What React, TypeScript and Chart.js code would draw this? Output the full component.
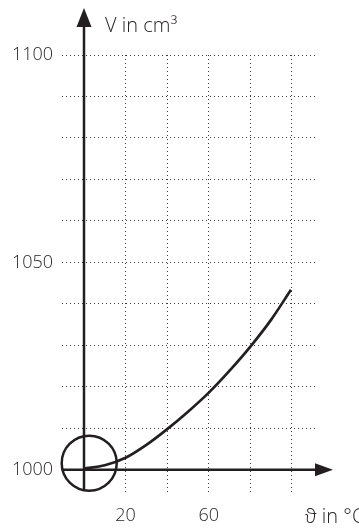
import React, { useEffect, useRef } from "react";
import { Chart, registerables } from "chart.js";

Chart.register(...registerables);

// Data (volume of 1 litre of water vs. temperature)
const temperatures = [0, 10, 20, 30, 40, 50, 60, 70, 80, 90, 99.5];
const volumes = [1000.3, 1001.1, 1002.9, 1006.0, 1009.8, 1014.0, 1018.6, 1023.9, 1029.7, 1036.2, 1043.4];
const xTickLabels = [20, 60];
const yTickLabels = [1000, 1050, 1100];
const yAxisTitle = "V in cm³";
const xAxisTitle = "ϑ in °C";
const markerCenter = { x: 2.5, y: 1001.6 };

const INK = "#231f20";
const GRID = "#3a3a3a";
const FONT_FAMILY = "'Open Sans', sans-serif";

const arrowAxesPlugin = {
  id: "arrowAxes",
  afterDatasetsDraw(chart: any) {
    const { ctx, scales } = chart;
    const xs = scales.x;
    const ys = scales.y;
    const ox = xs.getPixelForValue(0);
    const oy = ys.getPixelForValue(1000);
    const cx = xs.getPixelForValue(markerCenter.x);
    const cy = ys.getPixelForValue(markerCenter.y);
    const r = 27.5;

    ctx.save();
    ctx.strokeStyle = INK;
    ctx.fillStyle = INK;
    ctx.lineWidth = 2.5;
    ctx.lineCap = "butt";

    // y axis with arrow
    const yTip = 8;
    const yHead = 19;
    ctx.beginPath();
    ctx.moveTo(ox, cy + r);
    ctx.lineTo(ox, yTip + yHead - 1);
    ctx.stroke();
    ctx.beginPath();
    ctx.moveTo(ox, yTip);
    ctx.lineTo(ox - 7.5, yTip + yHead);
    ctx.lineTo(ox + 7.5, yTip + yHead);
    ctx.closePath();
    ctx.fill();

    // x axis with arrow
    const xTip = 333;
    const xHead = 18;
    ctx.beginPath();
    ctx.moveTo(cx - r, oy);
    ctx.lineTo(xTip - xHead + 1, oy);
    ctx.stroke();
    ctx.beginPath();
    ctx.moveTo(xTip, oy);
    ctx.lineTo(xTip - xHead, oy - 6.5);
    ctx.lineTo(xTip - xHead, oy + 6.5);
    ctx.closePath();
    ctx.fill();

    // circle marker round the origin
    ctx.beginPath();
    ctx.arc(cx, cy, r, 0, Math.PI * 2);
    ctx.stroke();

    // axis titles
    ctx.font = `300 20px ${FONT_FAMILY}`;
    ctx.textBaseline = "alphabetic";
    ctx.textAlign = "left";
    ctx.fillText(yAxisTitle, 105, 32);
    ctx.fillText(xAxisTitle, 305, 523);
    ctx.restore();
  },
};

export default function App() {
  const canvasRef = useRef<HTMLCanvasElement | null>(null);

  useEffect(() => {
    if (!canvasRef.current) return;
    const tickFont = { family: FONT_FAMILY, size: 18, weight: "300" as any };
    const chart = new Chart(canvasRef.current, {
      type: "line",
      data: {
        datasets: [
          {
            data: temperatures.map((t, i) => ({ x: t, y: volumes[i] })),
            borderColor: INK,
            borderWidth: 2.7,
            pointRadius: 0,
            fill: false,
            cubicInterpolationMode: "monotone",
          },
        ],
      },
      options: {
        responsive: false,
        animation: false,
        layout: { padding: { top: 55, right: 43, bottom: 0, left: 0 } },
        plugins: { legend: { display: false }, tooltip: { enabled: false } },
        scales: {
          x: {
            type: "linear",
            min: -10.58,
            max: 111.54,
            afterFit: (s: any) => {
              s.height = 36;
            },
            grid: {
              drawTicks: false,
              lineWidth: 1,
              color: (c: any) => (c.tick && c.tick.value === 0 ? "rgba(0,0,0,0)" : GRID),
            },
            border: { display: false, dash: [1, 3] },
            ticks: {
              stepSize: 20,
              includeBounds: false,
              autoSkip: false,
              maxRotation: 0,
              padding: 12,
              color: INK,
              font: tickFont,
              callback: (v: any) => (xTickLabels.includes(Number(v)) ? String(v) : ""),
            },
          },
          y: {
            type: "linear",
            min: 994.4,
            max: 1100,
            afterFit: (s: any) => {
              s.width = 62;
            },
            grid: {
              drawTicks: false,
              lineWidth: 1,
              color: (c: any) => (c.tick && c.tick.value === 1000 ? "rgba(0,0,0,0)" : GRID),
            },
            border: { display: false, dash: [1, 3] },
            ticks: {
              stepSize: 10,
              includeBounds: false,
              autoSkip: false,
              padding: 9,
              color: INK,
              font: tickFont,
              callback: (v: any) => (yTickLabels.includes(Number(v)) ? String(v) : ""),
            },
          },
        },
      },
      plugins: [arrowAxesPlugin],
    });
    return () => chart.destroy();
  }, []);

  return (
    <div style={{ position: "absolute", left: 0, top: 0, width: 359, height: 529, background: "#fff" }}>
      <canvas ref={canvasRef} width={359} height={529} style={{ display: "block" }} />
    </div>
  );
}
